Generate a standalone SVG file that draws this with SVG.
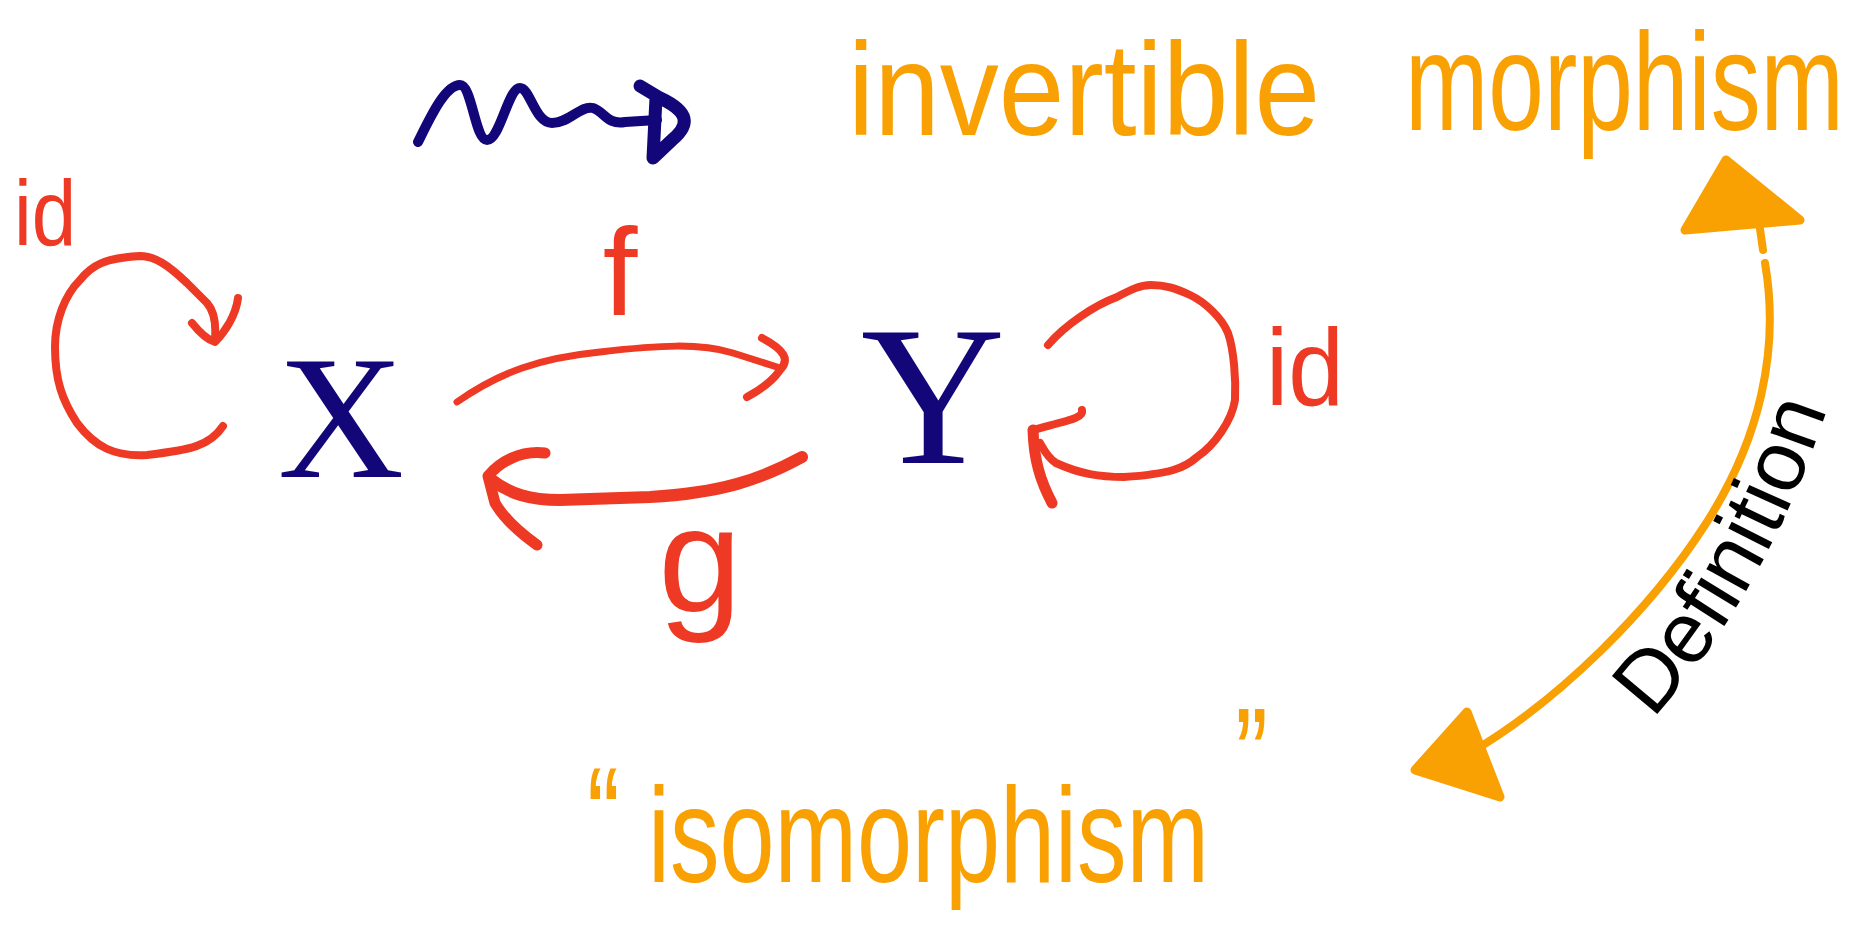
<svg xmlns="http://www.w3.org/2000/svg" width="1872" height="929" viewBox="0 0 1872 929">
<defs>
  <path id="defPath" d="M1640,732 Q1768,600 1835,385"/>
</defs>
<style>
.red{fill:none;stroke:#ee3a24;stroke-linecap:round;stroke-linejoin:round}
.navy{fill:none;stroke:#130678;stroke-linecap:round;stroke-linejoin:round}
.orng{fill:none;stroke:#f9a003;stroke-linecap:round;stroke-linejoin:round}
.ohead{fill:#f9a003;stroke:#f9a003;stroke-linecap:round;stroke-linejoin:round}
.hand{font-family:"Liberation Sans","DejaVu Sans",sans-serif}
.node{font-family:"Liberation Serif","DejaVu Serif",serif;fill:#130678}
.tr{fill:#ee3a24}
.to{fill:#f9a003}
</style>
<rect width="1872" height="929" fill="#fff"/>
<g id="connectors">
  <g id="loop-X">
    <path class="red" stroke-width="8" d="M223,426 C210,446 190,450 147,455 C115,457 95,447 77,423 C62,400 55,380 55,347 C55,320 65,295 80,280 C92,265 105,258 140,256 C155,256 168,265 187,283 L207,303 C215,312 216,325 215,338"/>
    <path class="red" stroke-width="8" d="M192,323 C200,333 208,340 215,342 C225,332 236,315 238,298"/>
  </g>
  <g id="arrow-f">
    <path class="red" stroke-width="7" d="M457,402 C500,372 540,358 600,352 C660,345 700,343 733,353 L777,367"/>
    <path class="red" stroke-width="8" d="M762,338 C785,350 790,360 780,370 C772,382 760,390 747,397"/>
  </g>
  <g id="arrow-g">
    <path class="red" stroke-width="12" d="M802,457 C760,480 720,493 650,497 L560,500 C530,500 510,494 492,480"/>
    <path class="red" stroke-width="11" d="M545,453 C520,450 500,462 488,476 L495,503 C505,520 520,533 537,545"/>
  </g>
  <g id="loop-Y">
    <path class="red" stroke-width="8" d="M1048,345 C1065,325 1095,305 1117,297 C1130,290 1140,285 1151,285 C1165,285 1175,288 1190,295 C1205,302 1222,318 1228,333 C1234,350 1236,380 1235,400 C1232,420 1215,445 1197,457 C1185,468 1170,474 1124,477 C1100,477 1080,474 1056,463 C1048,458 1044,450 1040,443"/>
    <path class="red" stroke-width="8" d="M1082,410 C1084,418 1070,420 1033,430"/>
    <path class="red" stroke-width="11" d="M1033,430 C1034,460 1040,480 1052,503"/>
  </g>
  <g id="squiggle">
    <path class="navy" stroke-width="10" d="M418,142 C430,118 445,85 460,85 C472,85 475,140 487,140 C500,140 508,88 520,88 C530,88 535,123 552,123 C570,123 580,105 593,108 C605,112 607,125 625,122 L657,120"/>
    <path class="navy" stroke-width="13" d="M640,86 L660,98 C690,112 690,125 672,140 L653,158 M656,98 L653,158"/>
  </g>
  <g id="definition-arrow">
    <path class="orng" stroke-width="8" d="M1758,215 L1763,250 M1765,263 C1780,350 1760,440 1705,525 C1650,610 1560,700 1470,753"/>
    <path class="ohead" stroke-width="9" d="M1726,160 L1685,230 L1800,220 Z"/>
    <path class="ohead" stroke-width="9" d="M1467,712 L1415,770 L1500,797 Z"/>
  </g>
</g>
<g id="node-X"><text class="node" x="341" y="477" font-size="175" text-anchor="middle">X</text></g>
<g id="node-Y"><text class="node" x="933" y="463" font-size="200" text-anchor="middle">Y</text></g>
<g id="label-idX"><text class="hand tr" font-size="80" transform="translate(14,245) scale(1,1.15)">id</text></g>
<g id="label-idY"><text class="hand tr" font-size="100" transform="translate(1266,405) scale(1,1.1)">id</text></g>
<g id="label-f"><text class="hand tr" x="620" y="315" font-size="125" text-anchor="middle">f</text></g>
<g id="label-g"><text class="hand tr" x="700" y="612" font-size="150" text-anchor="middle">g</text></g>
<g id="label-invertible">
  <text class="hand to" font-size="118" transform="translate(848,135) scale(1,1.12)">invertible</text>
  <text class="hand to" font-size="100" transform="translate(1405,130) scale(1,1.4)">morphism</text>
</g>
<g id="label-isomorphism">
  <text class="hand to" font-size="99" transform="translate(0,882) scale(1,1.36)"><tspan x="587" y="-15">“</tspan><tspan x="648" y="0">isomorphism</tspan><tspan x="1235" y="-59">”</tspan></text>
</g>
<g id="label-definition">
  <text class="hand" fill="#000" font-size="86"><textPath href="#defPath" startOffset="18">Definition</textPath></text>
</g>
</svg>
